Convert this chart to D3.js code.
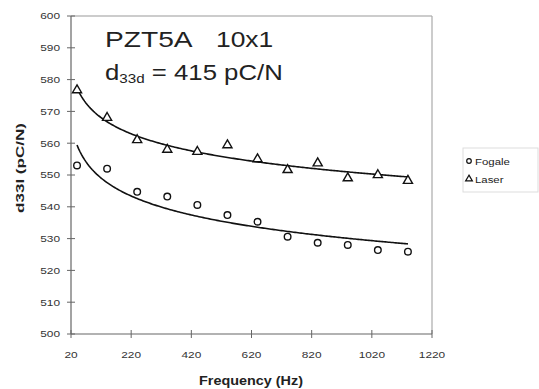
<!DOCTYPE html>
<html><head><meta charset="utf-8">
<script src="https://cdn.jsdelivr.net/npm/d3@7"></script>
<style>body{margin:0;background:#fff}svg{display:block}text{font-family:"Liberation Sans",Arial,sans-serif;fill:#222}</style>
</head><body><svg id="c" width="539" height="389"></svg>
<script>
const frequencies = [40,140,240,340,440,540,640,740,840,940,1040,1140];
const fogale = [553,552,544.7,543.2,540.6,537.4,535.3,530.6,528.7,528,526.4,525.9];
const laser = [576.7,568,561,558,557.3,559.4,555,551.6,553.7,549,550,548.2];
const xTicks = [20,220,420,620,820,1020,1220];
const yTicks = [500,510,520,530,540,550,560,570,580,590,600];
const seriesNames = ["Fogale","Laser"];

const svg = d3.select("#c");
const x = d3.scaleLinear().domain([20,1220]).range([71,432]);
const y = d3.scaleLinear().domain([500,600]).range([334,16]);

function stext(g, px, py, str, size, anchor, weight, sx){
  return g.append("text").attr("transform",`translate(${px},${py}) scale(${sx||1.2},1)`)
    .attr("font-size",size).attr("text-anchor",anchor||"start").attr("font-weight",weight||"normal").text(str);
}

// frame
svg.append("line").attr("x1",x(20)).attr("x2",x(1220)).attr("y1",y(600)).attr("y2",y(600)).attr("stroke","#999").attr("stroke-width",1.2);
svg.append("line").attr("x1",x(1220)).attr("x2",x(1220)).attr("y1",y(600)).attr("y2",y(500)).attr("stroke","#aaa").attr("stroke-width",1.2);
// axes
svg.append("line").attr("x1",x(20)).attr("x2",x(20)).attr("y1",y(600)).attr("y2",y(500)).attr("stroke","#666").attr("stroke-width",1.2);
svg.append("line").attr("x1",x(20)).attr("x2",x(1220)).attr("y1",y(500)).attr("y2",y(500)).attr("stroke","#666").attr("stroke-width",1.2);
yTicks.forEach(v=>{
  svg.append("line").attr("x1",x(20)-4).attr("x2",x(20)+4).attr("y1",y(v)).attr("y2",y(v)).attr("stroke","#666");
  stext(svg, 60, y(v)+3.3, String(v), 9.5, "end", "normal", 1.25).style("fill","#333");
});
xTicks.forEach(v=>{
  svg.append("line").attr("x1",x(v)).attr("x2",x(v)).attr("y1",y(500)-4).attr("y2",y(500)+4).attr("stroke","#666");
  stext(svg, x(v), 358, String(v), 9.5, "middle", "normal", 1.25).style("fill","#333");
});
stext(svg, 251, 385, "Frequency (Hz)", 12, "middle", "bold");
svg.append("text").attr("transform","translate(24,168) rotate(-90)").attr("font-size",10).attr("font-weight","bold")
  .attr("text-anchor","middle").attr("textLength",90).attr("lengthAdjust","spacingAndGlyphs").text("d33l (pC/N)");

// title
stext(svg, 105, 47, "PZT5A", 22, "start", "normal", 1.28);
stext(svg, 216, 47, "10x1", 22, "start", "normal", 1.2);
const t2 = svg.append("text").attr("transform",`translate(105,80) scale(1.17,1)`).attr("font-size",22);
t2.append("tspan").text("d");
t2.append("tspan").attr("font-size",13).attr("dy",3).text("33d");
t2.append("tspan").attr("dy",-3).text(" = 415 pC/N");

// power trendline (least squares on log-log)
function powerFit(xs, ys){
  const lx = xs.map(Math.log), ly = ys.map(Math.log);
  const mx = d3.mean(lx), my = d3.mean(ly);
  const b = d3.sum(lx.map((v,i)=>(v-mx)*(ly[i]-my)))/d3.sum(lx.map(v=>(v-mx)*(v-mx)));
  const a = Math.exp(my - b*mx);
  return f => a*Math.pow(f,b);
}
const line = d3.line().x(d=>x(d[0])).y(d=>y(d[1]));
[fogale, laser].forEach(vals=>{
  const fn = powerFit(frequencies, vals);
  const pts = d3.range(frequencies[0], frequencies[frequencies.length-1]+1, 5).map(f=>[f, fn(f)]);
  svg.append("path").attr("d", line(pts)).attr("fill","none").attr("stroke","#111").attr("stroke-width",1.6);
});

// markers
svg.selectAll("circle.f").data(frequencies).join("circle").attr("class","f")
  .attr("cx",(d)=>x(d)).attr("cy",(d,i)=>y(fogale[i])).attr("r",3.3)
  .attr("fill","#fff").attr("stroke","#111").attr("stroke-width",1.4);
const tri = d3.symbol().type(d3.symbolTriangle).size(36);
svg.selectAll("path.l").data(frequencies).join("path").attr("class","l")
  .attr("d",tri).attr("transform",(d,i)=>`translate(${x(d)},${y(laser[i])})`)
  .attr("fill","#fff").attr("stroke","#111").attr("stroke-width",1.4);

// legend
svg.append("rect").attr("x",463).attr("y",148).attr("width",75).attr("height",44).attr("fill","#fff").attr("stroke","#ddd");
svg.append("circle").attr("cx",469).attr("cy",161).attr("r",2.3).attr("fill","#fff").attr("stroke","#111").attr("stroke-width",1.2);
stext(svg, 475, 164.5, seriesNames[0], 9.5, "start", "normal", 1.2);
svg.append("path").attr("d",d3.symbol().type(d3.symbolTriangle).size(20)).attr("transform","translate(469,179)")
  .attr("fill","#fff").attr("stroke","#111").attr("stroke-width",1.2);
stext(svg, 475, 182.5, seriesNames[1], 9.5, "start", "normal", 1.2);
</script></body></html>
